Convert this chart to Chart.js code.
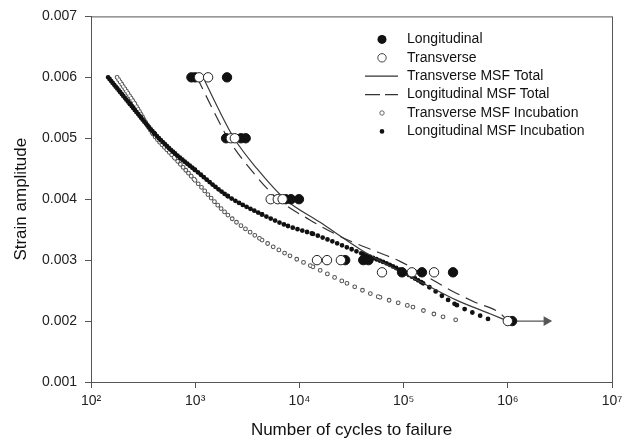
<!DOCTYPE html>
<html>
<head>
<meta charset="utf-8">
<script src="https://cdn.jsdelivr.net/npm/chart.js@4.4.0/dist/chart.umd.min.js"></script>
<style>
  html, body { margin: 0; padding: 0; background: #fff; }
</style>
</head>
<body>
<canvas id="grafico" width="630" height="441"></canvas>
<script>
// ensaios (pontos experimentais)
const longN = [920, 1000, 2020, 1980, 2750, 3050, 7400, 8300, 9900, 27500, 41000, 46000, 96600, 150000, 298000, 1100000];
const longS = [0.006, 0.006, 0.006, 0.005, 0.005, 0.005, 0.004, 0.004, 0.004, 0.003, 0.003, 0.003, 0.0028, 0.0028, 0.0028, 0.002];
const transN = [1090, 1330, 2200, 2400, 5300, 6200, 6900, 14750, 18400, 25000, 62000, 120000, 196000, 1000000];
const transS = [0.006, 0.006, 0.005, 0.005, 0.004, 0.004, 0.004, 0.003, 0.003, 0.003, 0.0028, 0.0028, 0.0028, 0.002];

// curvas MSF
const transTotalN = [1190, 1650, 2360, 3920, 7280, 15800, 38200, 74000, 154000, 325000, 675000, 1000000];
const transTotalS = [0.006, 0.0055, 0.005, 0.0045, 0.004, 0.00362, 0.00318, 0.0029, 0.00262, 0.00234, 0.00212, 0.002];
const longTotalN = [1040, 1450, 2060, 3360, 6230, 12600, 22000, 34200, 56800, 92400, 160500, 279000, 484000, 842000, 1000000];
const longTotalS = [0.006, 0.0055, 0.005, 0.0045, 0.004, 0.00366, 0.00343, 0.00328, 0.00313, 0.00298, 0.00275, 0.00251, 0.00231, 0.00213, 0.002];
const transIncN = [178, 264, 394, 640, 996, 2060, 4380, 8120, 13500, 28600, 59400, 123000, 239000, 318000];
const transIncS = [0.006, 0.00556, 0.00507, 0.00467, 0.00431, 0.00374, 0.00333, 0.00307, 0.00289, 0.00262, 0.00239, 0.00223, 0.00207, 0.00202];
const longIncN = [146, 237, 411, 640, 996, 2060, 4380, 7770, 13500, 28600, 40800, 74100, 154000, 325000, 675000];
const longIncS = [0.006, 0.00556, 0.00507, 0.00475, 0.00448, 0.00405, 0.00375, 0.00356, 0.00343, 0.00321, 0.0031, 0.00292, 0.00262, 0.00226, 0.00202];

// run-out (seta)
const arrowN = [1120000, 2350000];
const arrowS = [0.002, 0.002];

const xTickValues = [1e2, 1e3, 1e4, 1e5, 1e6, 1e7];
const xTickLabels = ['10²', '10³', '10⁴', '10⁵', '10⁶', '10⁷'];
const yTickValues = [0.001, 0.002, 0.003, 0.004, 0.005, 0.006, 0.007];

const seriesNames = ['Longitudinal', 'Transverse', 'Transverse MSF Total', 'Longitudinal MSF Total',
  'Transverse MSF Incubation', 'Longitudinal MSF Incubation'];

// espacamento dos pontinhos das curvas de incubacao (por trecho)
const transIncGaps = [2.8, 3, 3.5, 4, 4.8, 5.6, 6.5, 7.5, 8, 8.5, 9.5, 11, 13];
const longIncGaps = [2.4, 2.5, 2.8, 3.2, 3.8, 4.3, 4.8, 5, 5.2, 5.2, 3.6, 3.6, 7.5, 8.5];

const pts = (xs, ys) => xs.map((x, i) => ({ x: x, y: ys[i] }));
const fonte = 'Liberation Sans, Arial, sans-serif';
Chart.defaults.font.family = fonte;

const curva = {
  showLine: true, pointRadius: 0, pointHoverRadius: 0,
  cubicInterpolationMode: 'monotone'
};

const moldura = {
  id: 'moldura',
  beforeDatasetsDraw(chart) {
    const { ctx, chartArea: a } = chart;
    ctx.save();
    ctx.strokeStyle = '#555';
    ctx.lineWidth = 1;
    ctx.strokeRect(a.left + 0.5, a.top + 0.5, a.right - a.left, a.bottom - a.top);
    ctx.restore();
  }
};

const legendaInterna = {
  id: 'legendaInterna',
  afterDatasetsDraw(chart) {
    const { ctx, chartArea: a } = chart;
    const sx = a.left + 291, tx = a.left + 316;
    ctx.save();
    seriesNames.forEach((nome, i) => {
      const y = a.top + 23 + i * 18.4;
      ctx.setLineDash([]);
      if (i === 0) {
        ctx.fillStyle = '#111';
        ctx.beginPath(); ctx.arc(sx, y, 4.5, 0, Math.PI * 2); ctx.fill();
      } else if (i === 1) {
        ctx.fillStyle = '#fff'; ctx.strokeStyle = '#444'; ctx.lineWidth = 1;
        ctx.beginPath(); ctx.arc(sx, y, 4.2, 0, Math.PI * 2); ctx.fill(); ctx.stroke();
      } else if (i === 2 || i === 3) {
        ctx.strokeStyle = '#333'; ctx.lineWidth = 1.2;
        if (i === 3) ctx.setLineDash([15, 5]);
        ctx.beginPath(); ctx.moveTo(sx - 17, y); ctx.lineTo(sx + 16, y); ctx.stroke();
      } else if (i === 4) {
        ctx.fillStyle = '#fff'; ctx.strokeStyle = '#666'; ctx.lineWidth = 1;
        ctx.beginPath(); ctx.arc(sx, y, 2.2, 0, Math.PI * 2); ctx.fill(); ctx.stroke();
      } else {
        ctx.fillStyle = '#111';
        ctx.beginPath(); ctx.arc(sx, y, 2.3, 0, Math.PI * 2); ctx.fill();
      }
      ctx.setLineDash([]);
      ctx.fillStyle = '#111';
      ctx.font = '14px ' + fonte;
      ctx.textAlign = 'left';
      ctx.textBaseline = 'middle';
      ctx.fillText(nome, tx, y);
    });
    ctx.restore();
  }
};

new Chart(document.getElementById('grafico'), {
  type: 'scatter',
  data: {
    datasets: [
      { label: seriesNames[1], data: pts(transN, transS), order: 1,
        pointRadius: 4.7, pointBackgroundColor: '#fff', pointBorderColor: '#222', pointBorderWidth: 1 },
      { label: seriesNames[0], data: pts(longN, longS), order: 2,
        pointRadius: 4.7, pointBackgroundColor: '#111', pointBorderColor: '#111', pointBorderWidth: 1 },
      { label: 'runout', data: pts(arrowN, arrowS), order: 3, showLine: true,
        borderColor: '#555', borderWidth: 1.2, pointStyle: 'triangle', rotation: 90,
        pointBackgroundColor: '#555', pointBorderColor: '#555',
        pointRadius: ctx => ctx.dataIndex === 1 ? 4.5 : 0 },
      { ...curva, label: seriesNames[3], data: pts(longTotalN, longTotalS), order: 4,
        borderColor: '#333', borderWidth: 1.2, borderDash: [13, 7] },
      { ...curva, label: seriesNames[2], data: pts(transTotalN, transTotalS), order: 5,
        borderColor: '#3a3a3a', borderWidth: 1.2 },
      { ...curva, label: seriesNames[5], data: pts(longIncN, longIncS), order: 6,
        borderColor: '#111', borderWidth: 4.8, borderCapStyle: 'round',
        segment: { borderDash: ctx => [0, longIncGaps[ctx.p0DataIndex]] } },
      { ...curva, label: 'inc-fill', data: pts(transIncN, transIncS), order: 7,
        borderColor: '#fff', borderWidth: 2.7, borderCapStyle: 'round',
        segment: { borderDash: ctx => [0, transIncGaps[ctx.p0DataIndex]] } },
      { ...curva, label: seriesNames[4], data: pts(transIncN, transIncS), order: 8,
        borderColor: '#555', borderWidth: 4.8, borderCapStyle: 'round',
        segment: { borderDash: ctx => [0, transIncGaps[ctx.p0DataIndex]] } }
    ]
  },
  options: {
    responsive: false,
    animation: false,
    devicePixelRatio: 1,
    layout: { padding: { top: 16, right: 18, bottom: 0, left: 0 } },
    plugins: { legend: { display: false }, tooltip: { enabled: false } },
    scales: {
      x: {
        type: 'logarithmic', min: 1e2, max: 1e7,
        afterBuildTicks: s => { s.ticks = xTickValues.map(v => ({ value: v, major: true })); },
        afterFit: s => { s.height = 59; },
        ticks: { callback: (v, i) => xTickLabels[i], color: '#222', font: { size: 14 },
          padding: 5, maxRotation: 0, autoSkip: false },
        grid: { display: true, drawOnChartArea: false, drawTicks: true, tickLength: 6, color: '#555' },
        border: { display: true, color: '#555', width: 1 },
        title: { display: true, text: 'Number of cycles to failure', color: '#111',
          font: { size: 17 }, padding: { top: 2, bottom: 0 } }
      },
      y: {
        min: 0.001, max: 0.007,
        afterBuildTicks: s => { s.ticks = yTickValues.map(v => ({ value: v })); },
        afterFit: s => { s.width = 91; },
        ticks: { callback: v => v.toFixed(3), color: '#222', font: { size: 14 }, padding: 8 },
        grid: { display: true, drawOnChartArea: false, drawTicks: true, tickLength: 6, color: '#555' },
        border: { display: true, color: '#555', width: 1 },
        title: { display: true, text: 'Strain amplitude', color: '#111',
          font: { size: 17 }, padding: { top: 11, bottom: 0 } }
      }
    }
  },
  plugins: [moldura, legendaInterna]
});
</script>
</body>
</html>
